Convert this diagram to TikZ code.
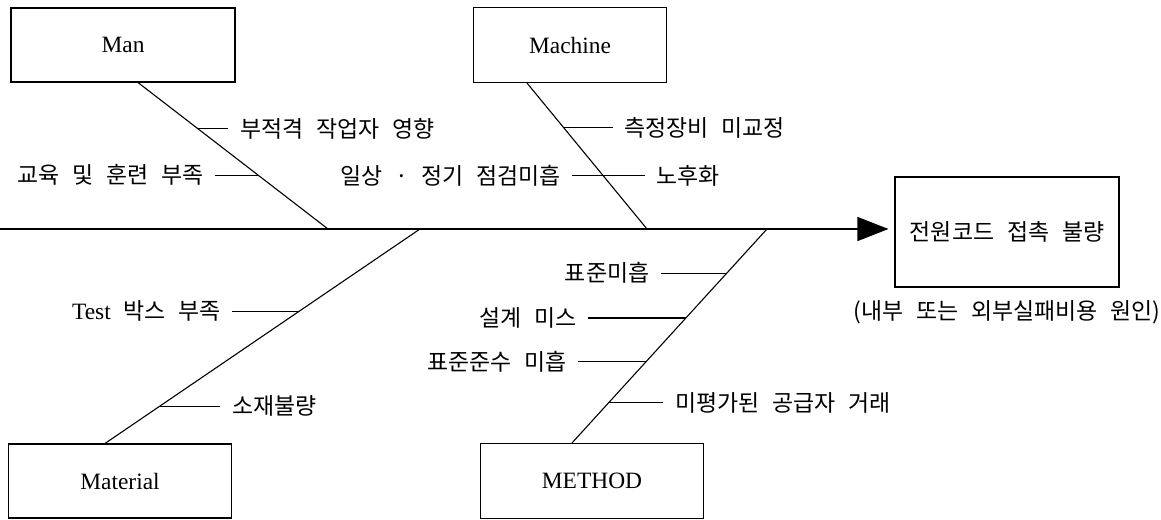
\documentclass[tikz,border=0pt]{standalone}
\usepackage{fontspec}
\setmainfont{Liberation Serif}
\newfontfamily\krfont[WordSpace=2.5]{Noto Sans CJK KR}
\usetikzlibrary{positioning,arrows.meta}

\begin{document}
\begin{tikzpicture}[x=1bp,y=-1bp,line width=1.1bp,
    causebox/.style={draw, inner sep=0pt, font=\fontsize{23.5}{25}\selectfont},
    ribtext/.style={inner xsep=11bp, inner ysep=0pt, font=\krfont\fontsize{23}{25}\selectfont}]
    \useasboundingbox (0,0) rectangle (1161,520);

    % the four cause boxes
    \node[causebox, minimum width=224bp, minimum height=74bp] (man) at (123,45) {Man};
    \node[causebox, minimum width=193bp, minimum height=75bp] (machine) at (570,45) {Machine};
    \node[causebox, minimum width=223bp, minimum height=74bp] (material) at (120,481) {Material};
    \node[causebox, minimum width=223bp, minimum height=75bp] (method) at (592,481) {METHOD};

    % the effect box and its note
    \node[causebox, minimum width=224bp, minimum height=110bp,
        font=\krfont\fontsize{23}{25}\selectfont] (effect) at (1007,232) {전원코드 접촉 불량};
    \node[ribtext, inner xsep=0pt, below=12bp of effect] (cost) {(내부 또는 외부실패비용 원인)};

    % draw the spine
    \coordinate (tail) at (0,229);
    \draw[line width=1.3bp, -{Triangle[length=31bp,width=24bp]}, shorten >=6bp]
        (tail) -- (tail -| effect.west);

    % ends of the four bones on the spine
    \coordinate (manend) at (328,229);
    \coordinate (machend) at (647,229);
    \coordinate (matend) at (420,229);
    \coordinate (methend) at (767,229);

    % man bone
    \draw ([xshift=15bp]man.south) -- coordinate[pos=.313] (m1) coordinate[pos=.633] (m2) (manend);
    \node[ribtext, right=31bp of m1] (m1t) {부적격 작업자 영향};
    \draw (m1) -- (m1 -| m1t.west);
    \node[ribtext, left=43bp of m2] (m2t) {교육 및 훈련 부족};
    \draw (m2) -- (m2 -| m2t.east);

    % machine bone
    \draw ([xshift=-43bp]machine.south) -- coordinate[pos=.306] (c1) coordinate[pos=.633] (c2) (machend);
    \node[ribtext, right=49bp of c1] (c1t) {측정장비 미교정};
    \draw (c1) -- (c1 -| c1t.west);
    \node[ribtext, left=31bp of c2] (c2t) {일상 · 정기 점검미흡};
    \draw (c2) -- (c2 -| c2t.east);
    \node[ribtext, right=42bp of c2] (c3t) {노후화};
    \draw (c2) -- (c2 -| c3t.west);

    % material bone
    \draw ([xshift=-15bp]material.north) -- coordinate[pos=.173] (t2) coordinate[pos=.617] (t1) (matend);
    \node[ribtext, left=67bp of t1] (t1t) {{\normalfont\fontsize{23.5}{25}\selectfont Test} 박스 부족};
    \draw (t1) -- (t1 -| t1t.east);
    \node[ribtext, right=61bp of t2] (t2t) {소재불량};
    \draw (t2) -- (t2 -| t2t.west);

    % method bone
    \draw ([xshift=-20bp]method.north) -- coordinate[pos=.187] (d4) coordinate[pos=.379] (d3)
        coordinate[pos=.584] (d2) coordinate[pos=.794] (d1) (methend);
    \node[ribtext, left=66bp of d1] (d1t) {표준미흡};
    \draw (d1) -- (d1 -| d1t.east);
    \node[ribtext, left=98bp of d2] (d2t) {설계 미스};
    \draw (d2) -- (d2 -| d2t.east);
    \node[ribtext, left=68bp of d3] (d3t) {표준준수 미흡};
    \draw (d3) -- (d3 -| d3t.east);
    \node[ribtext, right=55bp of d4] (d4t) {미평가된 공급자 거래};
    \draw (d4) -- (d4 -| d4t.west);
\end{tikzpicture}
\end{document}
